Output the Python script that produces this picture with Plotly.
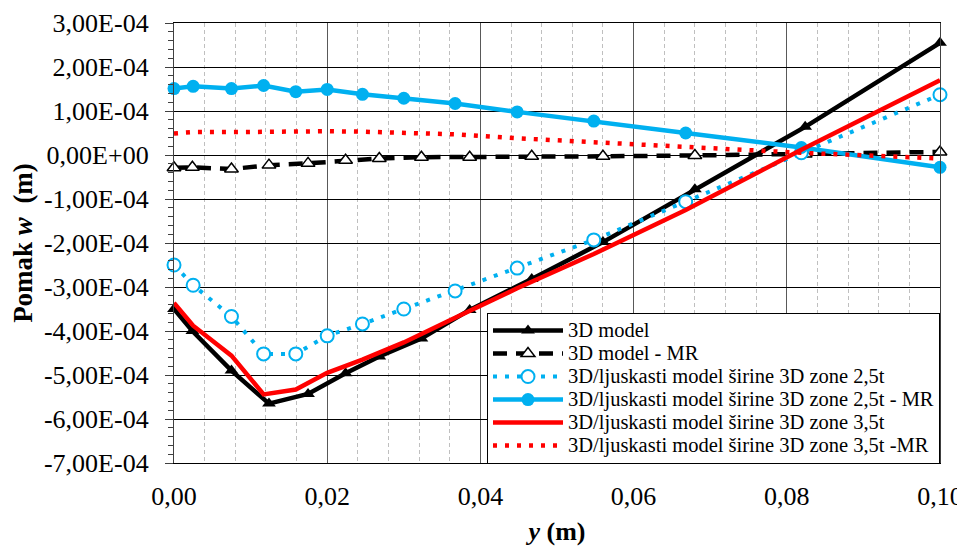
import plotly.graph_objects as go

# ---- data ----
x_3d = [0.0, 0.0024, 0.0075, 0.0124, 0.0175, 0.0224, 0.0268, 0.0323, 0.0386, 0.0467, 0.0560, 0.0680, 0.0824, 0.1000]
w_3d = [-3.50e-4, -4.00e-4, -4.90e-4, -5.65e-4, -5.43e-4, -4.96e-4, -4.58e-4, -4.17e-4, -3.52e-4, -2.82e-4, -1.98e-4, -0.78e-4, 0.64e-4, 2.55e-4]
w_3d_mr = [-0.29e-4, -0.28e-4, -0.32e-4, -0.23e-4, -0.19e-4, -0.12e-4, -0.08e-4, -0.05e-4, -0.05e-4, -0.03e-4, -0.03e-4, -0.01e-4, 0.02e-4, 0.07e-4]

x_shell = [0.0, 0.0025, 0.0075, 0.0117, 0.0159, 0.0200, 0.0246, 0.0300, 0.0367, 0.0448, 0.0548, 0.0668, 0.0819, 0.1000]
w_25 = [-2.50e-4, -2.96e-4, -3.67e-4, -4.52e-4, -4.52e-4, -4.11e-4, -3.84e-4, -3.50e-4, -3.09e-4, -2.57e-4, -1.93e-4, -1.06e-4, 0.05e-4, 1.37e-4]
w_25_mr = [1.51e-4, 1.56e-4, 1.51e-4, 1.58e-4, 1.44e-4, 1.49e-4, 1.38e-4, 1.29e-4, 1.17e-4, 0.98e-4, 0.77e-4, 0.50e-4, 0.17e-4, -0.28e-4]
w_35 = [-3.36e-4, -3.88e-4, -4.56e-4, -5.44e-4, -5.33e-4, -4.95e-4, -4.65e-4, -4.26e-4, -3.70e-4, -3.03e-4, -2.25e-4, -1.25e-4, 0.12e-4, 1.70e-4]
w_35_mr = [0.49e-4, 0.52e-4, 0.52e-4, 0.53e-4, 0.52e-4, 0.54e-4, 0.53e-4, 0.51e-4, 0.47e-4, 0.38e-4, 0.29e-4, 0.19e-4, 0.05e-4, -0.08e-4]

series_names = [
    "3D model",
    "3D model - MR",
    "3D/ljuskasti model širine 3D zone 2,5t",
    "3D/ljuskasti model širine 3D zone 2,5t - MR",
    "3D/ljuskasti model širine 3D zone 3,5t",
    "3D/ljuskasti model širine 3D zone 3,5t -MR",
]

y_tick_values = [3e-4, 2e-4, 1e-4, 0.0, -1e-4, -2e-4, -3e-4, -4e-4, -5e-4, -6e-4, -7e-4]
y_tick_labels = ["3,00E-04", "2,00E-04", "1,00E-04", "0,00E+00", "-1,00E-04", "-2,00E-04",
                 "-3,00E-04", "-4,00E-04", "-5,00E-04", "-6,00E-04", "-7,00E-04"]
x_tick_values = [0.0, 0.02, 0.04, 0.06, 0.08, 0.10]
x_tick_labels = ["0,00", "0,02", "0,04", "0,06", "0,08", "0,10"]

FONT = "Liberation Serif"
CYAN = "#00B0F0"
RED = "#FF0000"

# the page body adds an 8 px margin, so the figure is 8 px smaller and shifted
W, H = 957, 538
ML, MR_, MT, MB = 166, 25, 15, 83


def legend_label(name):
    return '<span style="font-size:20.5px">' + name + '</span>'


fig = go.Figure()

fig.add_trace(go.Scatter(
    x=x_3d, y=w_3d, name=legend_label(series_names[0]), mode="lines+markers",
    line=dict(color="black", width=4.5),
    marker=dict(symbol="triangle-up", size=12, color="black"),
    cliponaxis=False))
fig.add_trace(go.Scatter(
    x=x_3d, y=w_3d_mr, name=legend_label(series_names[1]), mode="lines+markers",
    line=dict(color="black", width=4.5, dash="14px,9px"),
    marker=dict(symbol="triangle-up", size=12, color="white", line=dict(color="black", width=1.5)),
    cliponaxis=False))
fig.add_trace(go.Scatter(
    x=x_shell, y=w_25, name=legend_label(series_names[2]), mode="lines+markers",
    line=dict(color=CYAN, width=4, dash="4px,8px"),
    marker=dict(symbol="circle", size=13, color="white", line=dict(color=CYAN, width=2)),
    cliponaxis=False))
fig.add_trace(go.Scatter(
    x=x_shell, y=w_25_mr, name=legend_label(series_names[3]), mode="lines+markers",
    line=dict(color=CYAN, width=4.5),
    marker=dict(symbol="circle", size=13, color=CYAN),
    cliponaxis=False))
fig.add_trace(go.Scatter(
    x=x_shell, y=w_35, name=legend_label(series_names[4]), mode="lines",
    line=dict(color=RED, width=4.5),
    cliponaxis=False))
fig.add_trace(go.Scatter(
    x=x_shell, y=w_35_mr, name=legend_label(series_names[5]), mode="lines",
    line=dict(color=RED, width=4.5, dash="4px,8px"),
    cliponaxis=False))

plot_h = H - MT - MB
fig.update_layout(
    width=W, height=H,
    margin=dict(l=ML, r=MR_, t=MT, b=MB, autoexpand=False),
    paper_bgcolor="white", plot_bgcolor="white",
    font=dict(family=FONT, color="black", size=26),
    showlegend=True,
    legend=dict(
        x=1.0, y=(plot_h + MT - 305) / plot_h, xanchor="right", yanchor="top",
        bgcolor="white", bordercolor="black", borderwidth=1,
        font=dict(family=FONT, size=15.4, color="black"),
        itemwidth=70, tracegroupgap=0,
    ),
    xaxis=dict(
        range=[0, 0.1], tickvals=x_tick_values, ticktext=x_tick_labels,
        showgrid=True, gridcolor="#595959", gridwidth=1.3,
        minor=dict(dtick=0.004, showgrid=True, gridcolor="#BFBFBF", gridwidth=1, griddash="4px,3px"),
        showline=True, linecolor="black", linewidth=1.3, mirror=True,
        ticks="", ticklabelstandoff=10, zeroline=False, ticklabeloverflow="allow",
        tickfont=dict(family=FONT, size=26, color="black"),
        title=dict(text="<b><i>y</i> (m)</b>", font=dict(family=FONT, size=26, color="black"), standoff=13),
    ),
    yaxis=dict(
        range=[-7e-4, 3e-4], tickvals=y_tick_values, ticktext=y_tick_labels,
        showgrid=True, gridcolor="black", gridwidth=1,
        minor=dict(dtick=0.2e-4, ticks="outside", ticklen=5, tickcolor="#404040", tickwidth=1.3, showgrid=False),
        ticks="outside", ticklen=8, tickcolor="#404040", tickwidth=1.3,
        showline=True, linecolor="#404040", linewidth=1.3, mirror=True,
        zeroline=False, ticklabelstandoff=11,
        tickfont=dict(family=FONT, size=26, color="black"),
        title=dict(text="<b>Pomak <i>w</i>&nbsp; (m)</b>", font=dict(family=FONT, size=27, color="black"), standoff=14),
    ),
)

fig.write_html("out.html")
